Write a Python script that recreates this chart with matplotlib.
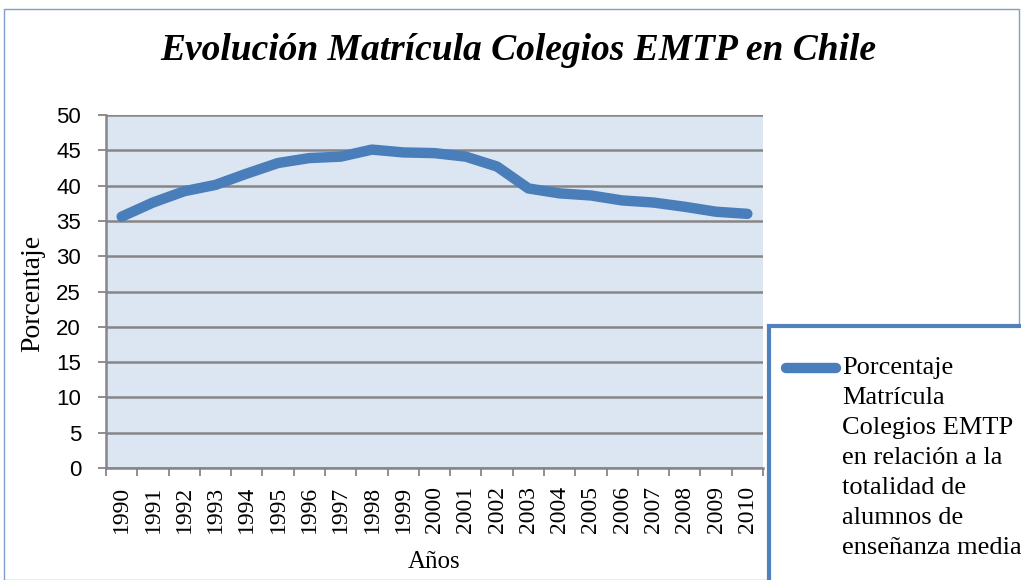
import matplotlib.pyplot as plt
from matplotlib.patches import Rectangle
from matplotlib.lines import Line2D

years = [str(y) for y in range(1990, 2011)]
porcentaje = [35.6, 37.6, 39.2, 40.1, 41.7, 43.2, 43.9, 44.1, 45.1, 44.7,
              44.6, 44.1, 42.7, 39.6, 38.9, 38.6, 37.9, 37.6, 37.0, 36.3, 36.0]
yticks = list(range(0, 55, 5))
legend_label = ('Porcentaje\nMatrícula\nColegios EMTP\nen relación a la\n'
                'totalidad de\nalumnos de\nenseñanza media')

serif = 'Liberation Serif'
sans = 'Liberation Sans'
line_col = '#4a7ebb'
grid_col = '#868686'

fig = plt.figure(figsize=(10.21, 5.80), dpi=100)
W, H = 1021, 580
ax = fig.add_axes([106 / W, 1 - 468 / H, (763 - 106) / W, (468 - 115) / H])
ax.set_facecolor('#dce6f2')

x = list(range(len(years)))
ax.plot(x, porcentaje, color=line_col, lw=7.5, solid_capstyle='round',
        solid_joinstyle='round', zorder=3)

ax.set_xlim(-0.5, len(years) - 0.5)
ax.set_ylim(0, 50)
ax.set_yticks(yticks)
ax.set_yticklabels([str(v) for v in yticks], fontfamily=sans, fontsize=16)
ax.yaxis.grid(True, color=grid_col, lw=1.8)
ax.set_axisbelow(True)

ax.set_xticks(x)
ax.set_xticklabels(years, rotation=90, fontfamily=serif, fontsize=17)
ax.set_xticks([i - 0.5 for i in range(len(years) + 1)], minor=True)
ax.tick_params(axis='x', which='major', length=0, pad=13)
ax.tick_params(axis='x', which='minor', length=6, width=1.3, color=grid_col, direction='out')
ax.tick_params(axis='y', length=6, width=1.3, color=grid_col, pad=12)

for s in ['top', 'right']:
    ax.spines[s].set_visible(False)
for s in ['left', 'bottom']:
    ax.spines[s].set_color(grid_col)
    ax.spines[s].set_linewidth(1.8)

ax.set_ylabel('Porcentaje', fontfamily=serif, fontsize=20, va='center')
ax.yaxis.set_label_coords((33 - 106) / 657, (468 - 293) / 353)
ax.set_xlabel('Años', fontfamily=serif, fontsize=18, va='center')
ax.xaxis.set_label_coords(0.5, (468 - 562) / 353)

fig.text(518 / W, 1 - 51 / H, 'Evolución Matrícula Colegios EMTP en Chile',
         fontfamily=serif, fontsize=27, fontweight='bold', fontstyle='italic',
         ha='center', va='center')

# chart outer frame
fig.add_artist(Rectangle((4 / W, 0), (W - 6) / W, 1 - 9 / H, transform=fig.transFigure,
                         fill=False, edgecolor='#7f9fc8', lw=1.0))

# legend box
fig.add_artist(Rectangle((769 / W, -0.05), 0.5, 1 - 326 / H + 0.05, transform=fig.transFigure,
                         fill=True, facecolor='white', edgecolor='#4f81bd', lw=3.0, zorder=5))
fig.add_artist(Line2D([786 / W, 836 / W], [1 - 368 / H, 1 - 368 / H], transform=fig.transFigure,
                      color=line_col, lw=7.5, solid_capstyle='round', zorder=6))
fig.text(842 / W, 1 - 357 / H, legend_label, fontfamily=serif, fontsize=19,
         ha='left', va='top', linespacing=1.47, zorder=6)

fig.savefig('out.png', dpi=100)
